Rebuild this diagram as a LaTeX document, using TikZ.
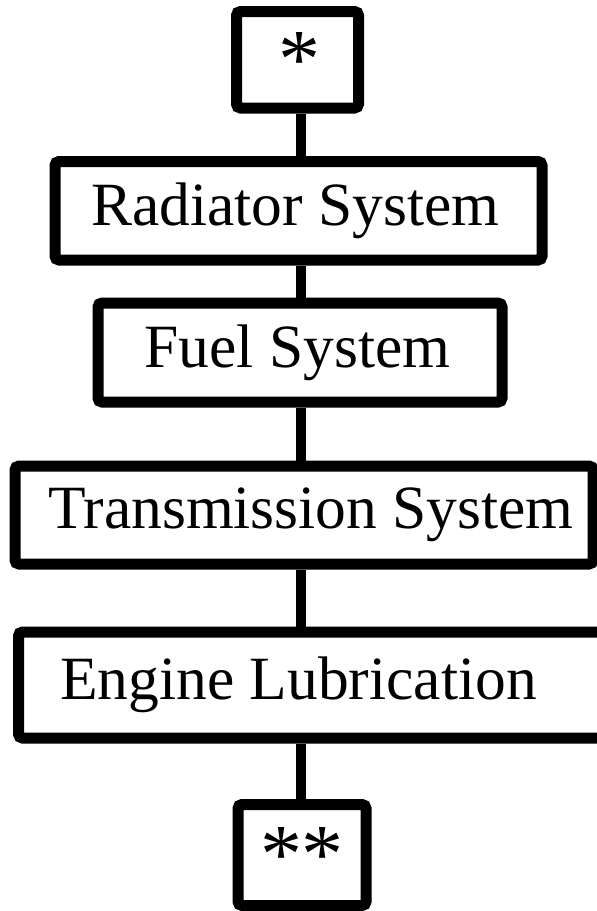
\documentclass[tikz,border=0pt]{standalone}
\usepackage{fontspec}
\setmainfont{Liberation Serif}
\begin{document}
\begin{tikzpicture}[x=0.5pt,y=-0.5pt,
  box/.style={draw=black, line width=5.5pt, rounded corners=2pt, inner sep=0pt,
    font=\fontsize{30.75}{36}\selectfont},
  starbox/.style={box, font=\fontsize{42}{46}\selectfont},
  conn/.style={draw=black, line width=5pt}]
\useasboundingbox (0,0) rectangle (597,911);
\fill[white] (0,0) rectangle (597,911);
\node[starbox, minimum width=61pt, minimum height=48.25pt] (b1) at (297.5,59.75) {\hspace*{2pt}\raisebox{-1pt}{*}};
\node[box, minimum width=243.5pt, minimum height=49.25pt] (b2) at (298.5,210.75) {\hspace*{-3pt}Radiator System};
\node[box, minimum width=202pt, minimum height=49.5pt] (b3) at (300,352.5) {\hspace*{-2.5pt}Fuel System};
\node[box, minimum width=289pt, minimum height=49pt] (b4) at (304,515) {\hspace*{7pt}Transmission System};
\node[box, minimum width=293.25pt, minimum height=53pt] (b5) at (311.75,685) {\hspace*{-13.25pt}Engine Lubrication};
\node[starbox, minimum width=64pt, minimum height=50.5pt] (b6) at (302,855) {\raisebox{-4.5pt}{*\kern-0.5pt*}};
\coordinate (axis) at (301,0);
\draw[conn] (b1.south -| axis) -- (b2.north -| axis);
\draw[conn] (b2.south -| axis) -- (b3.north -| axis);
\draw[conn] (b3.south -| axis) -- (b4.north -| axis);
\draw[conn] (b4.south -| axis) -- (b5.north -| axis);
\draw[conn] (b5.south -| axis) -- (b6.north -| axis);
\end{tikzpicture}
\end{document}
